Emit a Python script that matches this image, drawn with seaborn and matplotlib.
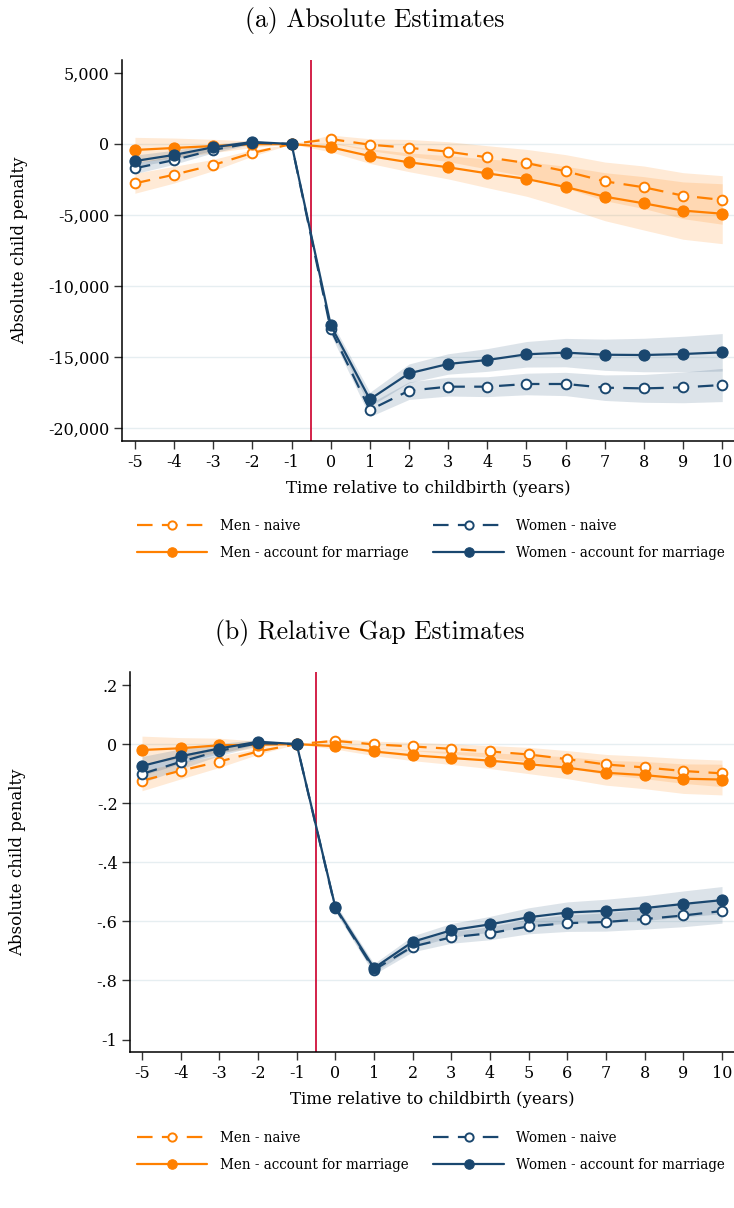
import numpy as np
import pandas as pd
import matplotlib
matplotlib.use("Agg")
import matplotlib.pyplot as plt
from matplotlib.lines import Line2D
import seaborn as sns

# ---------------------------------------------------------------- data
event_time = [-5, -4, -3, -2, -1, 0, 1, 2, 3, 4, 5, 6, 7, 8, 9, 10]
xtick_labels = ["-5", "-4", "-3", "-2", "-1", "0", "1", "2", "3", "4",
                "5", "6", "7", "8", "9", "10"]

# (a) absolute estimates
abs_men_naive = [-2770, -2160, -1480, -630, 0, 350, -50, -270, -540, -940,
                 -1340, -1920, -2630, -3050, -3640, -3940]
abs_men_naive_ci = [700, 590, 400, 230, 0, 280, 420, 590, 700, 820,
                    960, 1170, 1360, 1500, 1620, 1710]
abs_men_marr = [-420, -280, -140, -20, 0, -230, -850, -1290, -1640, -2070,
                -2460, -3030, -3710, -4180, -4690, -4910]
abs_men_marr_ci = [890, 700, 470, 230, 0, 330, 520, 660, 820, 1010,
                   1220, 1460, 1690, 1880, 2020, 2110]
abs_women_naive = [-1710, -1130, -420, 90, 0, -13050, -18730, -17370, -17090,
                   -17090, -16900, -16900, -17160, -17210, -17140, -16970]
abs_women_naive_ci = [380, 300, 200, 100, 0, 350, 470, 620, 660, 700,
                      760, 820, 900, 980, 1080, 1170]
abs_women_marr = [-1200, -770, -230, 140, 0, -12770, -17980, -16150, -15490,
                  -15210, -14810, -14690, -14840, -14860, -14790, -14670]
abs_women_marr_ci = [420, 330, 220, 110, 0, 370, 500, 660, 720, 800,
                     900, 1000, 1100, 1180, 1250, 1320]
abs_yticks = [5000, 0, -5000, -10000, -15000, -20000]
abs_ytick_labels = ["5,000", "0", "-5,000", "-10,000", "-15,000", "-20,000"]

# (b) relative gap estimates
rel_men_naive = [-0.124, -0.090, -0.059, -0.025, 0.0, 0.011, -0.001, -0.008,
                 -0.016, -0.025, -0.035, -0.051, -0.069, -0.079, -0.091, -0.099]
rel_men_naive_ci = [0.034, 0.028, 0.020, 0.010, 0.0, 0.008, 0.011, 0.014,
                    0.017, 0.020, 0.024, 0.029, 0.034, 0.038, 0.042, 0.045]
rel_men_marr = [-0.020, -0.014, -0.004, -0.002, 0.0, -0.007, -0.025, -0.038,
                -0.047, -0.056, -0.068, -0.080, -0.097, -0.105, -0.117, -0.120]
rel_men_marr_ci = [0.047, 0.036, 0.024, 0.012, 0.0, 0.010, 0.014, 0.018,
                   0.022, 0.027, 0.032, 0.037, 0.042, 0.046, 0.050, 0.052]
rel_women_naive = [-0.101, -0.060, -0.023, 0.003, 0.0, -0.555, -0.764, -0.685,
                   -0.654, -0.640, -0.617, -0.606, -0.602, -0.592, -0.580, -0.565]
rel_women_naive_ci = [0.030, 0.024, 0.016, 0.008, 0.0, 0.012, 0.015, 0.018,
                      0.020, 0.022, 0.025, 0.028, 0.031, 0.034, 0.038, 0.041]
rel_women_marr = [-0.074, -0.041, -0.015, 0.008, 0.0, -0.552, -0.758, -0.669,
                  -0.630, -0.610, -0.586, -0.570, -0.564, -0.555, -0.541, -0.528]
rel_women_marr_ci = [0.032, 0.025, 0.017, 0.008, 0.0, 0.012, 0.015, 0.020,
                     0.023, 0.027, 0.032, 0.036, 0.039, 0.042, 0.044, 0.046]
rel_yticks = [0.2, 0.0, -0.2, -0.4, -0.6, -0.8, -1.0]
rel_ytick_labels = [".2", "0", "-.2", "-.4", "-.6", "-.8", "-1"]

series_labels = ["Men - naive", "Men - account for marriage",
                 "Women - naive", "Women - account for marriage"]
panel_titles = ["(a) Absolute Estimates", "(b) Relative Gap Estimates"]
y_title = "Absolute child penalty"
x_title = "Time relative to childbirth (years)"

# ---------------------------------------------------------------- style
sns.set_style("white")
plt.rcParams["font.family"] = ["DejaVu Serif"]
plt.rcParams["axes.unicode_minus"] = False
plt.rcParams["text.color"] = "black"
plt.rcParams["axes.labelcolor"] = "black"
plt.rcParams["xtick.color"] = "black"
plt.rcParams["ytick.color"] = "black"

ORANGE = "#ff8000"
NAVY = "#1a476f"
RED = "#d0103a"
GRID = "#e6eef1"

DASH = (0, (7.0, 4.2))
styles = [
    dict(color=ORANGE, hollow=True, ls=DASH),
    dict(color=ORANGE, hollow=False, ls="-"),
    dict(color=NAVY, hollow=True, ls=DASH),
    dict(color=NAVY, hollow=False, ls="-"),
]

FIG_W, FIG_H = 734, 1208


def line_kws(st, scale=1.0):
    kws = dict(color=st["color"], linestyle=st["ls"], linewidth=1.6,
               marker="o", markeredgecolor=st["color"])
    if st["hollow"]:
        kws.update(markerfacecolor="white", markersize=7.0 * scale,
                   markeredgewidth=1.4)
    else:
        kws.update(markerfacecolor=st["color"], markersize=8.0 * scale,
                   markeredgewidth=0.8)
    return kws


def draw_panel(ax, ests, cis, yticks, ylabels, ylim, xlim, grid_vals,
               ylabel_px, band_alpha):
    # confidence bands first, under the lines
    for est, ci, st in zip(ests, cis, styles):
        est = np.asarray(est)
        ci = np.asarray(ci)
        ax.fill_between(event_time, est - ci, est + ci, color=st["color"],
                        alpha=band_alpha[st["color"]], linewidth=0, zorder=1)
    for est, st in zip(ests, styles):
        df = pd.DataFrame({"t": event_time, "v": est})
        sns.lineplot(data=df, x="t", y="v", ax=ax, errorbar=None,
                     legend=False, zorder=3, **line_kws(st))
    ax.axvline(-0.5, color=RED, linewidth=1.3, zorder=2)

    ax.set_xlim(*xlim)
    ax.set_ylim(*ylim)
    ax.set_xticks(event_time)
    ax.set_xticklabels(xtick_labels)
    ax.set_yticks(yticks)
    ax.set_yticklabels(ylabels)
    for y in grid_vals:
        ax.axhline(y, color=GRID, linewidth=1.0, zorder=0)
    ax.set_xlabel(x_title, fontsize=12, labelpad=7)
    ax.set_ylabel(y_title, fontsize=12)
    # fixed horizontal position of the y-axis title
    bbox = ax.get_position()
    ax_left_px = bbox.x0 * FIG_W
    ax_w_px = bbox.width * FIG_W
    ax.yaxis.set_label_coords((ylabel_px - ax_left_px) / ax_w_px, 0.5)
    ax.tick_params(axis="both", which="major", direction="out", length=6,
                   width=1.0, color="#333333", labelsize=11.5, pad=3,
                   labelcolor="black", left=True, bottom=True)
    sns.despine(ax=ax, top=True, right=True)
    for sp in ("left", "bottom"):
        ax.spines[sp].set_color("black")
        ax.spines[sp].set_linewidth(1.1)


def legend_handles():
    return [Line2D([0], [0], **line_kws(st, 0.85)) for st in styles]


fig = plt.figure(figsize=(FIG_W / 100, FIG_H / 100), dpi=100)
fig.patch.set_facecolor("white")

ax1 = fig.add_axes([122 / FIG_W, 1 - 441 / FIG_H, 612 / FIG_W, 381 / FIG_H])
ax2 = fig.add_axes([130 / FIG_W, 1 - 1052 / FIG_H, 604 / FIG_W, 380 / FIG_H])

band_alpha = {ORANGE: 0.16, NAVY: 0.15}

draw_panel(ax1,
           [abs_men_naive, abs_men_marr, abs_women_naive, abs_women_marr],
           [abs_men_naive_ci, abs_men_marr_ci, abs_women_naive_ci, abs_women_marr_ci],
           abs_yticks, abs_ytick_labels, (-20915, 5915), (-5.33, 10.3),
           abs_yticks[1:], 28, band_alpha)
draw_panel(ax2,
           [rel_men_naive, rel_men_marr, rel_women_naive, rel_women_marr],
           [rel_men_naive_ci, rel_men_marr_ci, rel_women_naive_ci, rel_women_marr_ci],
           rel_yticks, rel_ytick_labels, (-1.042, 0.244), (-5.31, 10.31),
           rel_yticks[1:-1], 26, band_alpha)

# panel titles
fig.text(0.511, 1 - 20 / FIG_H, panel_titles[0], ha="center", va="center",
         fontsize=18.5, family="cmr10", color="black")
fig.text(0.504, 1 - 632 / FIG_H, panel_titles[1], ha="center", va="center",
         fontsize=18.5, family="cmr10", color="black")

# legends below each panel
for y_top in (1 - 519 / FIG_H, 1 - 1131 / FIG_H):
    leg = fig.legend(legend_handles(), series_labels, ncol=2, frameon=False,
                     loc="upper left", bbox_to_anchor=(137 / FIG_W, y_top),
                     fontsize=9.75, handlelength=5.2, handletextpad=0.9,
                     columnspacing=1.85, labelspacing=0.95, borderaxespad=0,
                     borderpad=0)
    for t in leg.get_texts():
        t.set_color("black")

fig.savefig("out.png", dpi=100, facecolor="white")
